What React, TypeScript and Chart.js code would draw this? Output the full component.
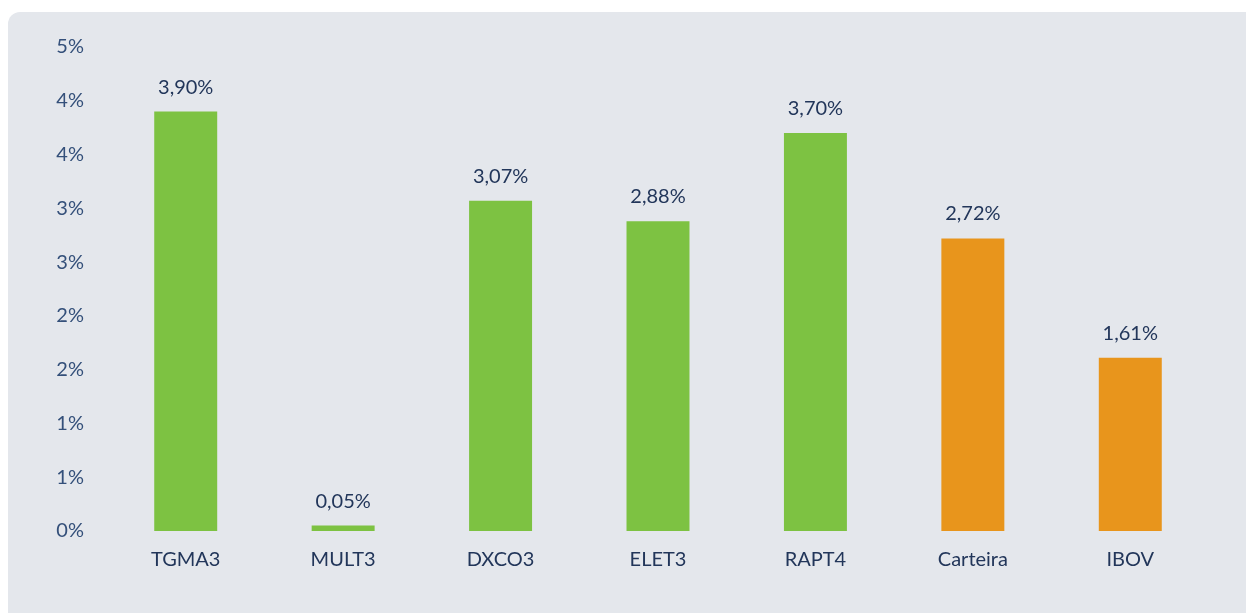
import React, { useEffect, useRef } from "react";
import { Chart, registerables } from "chart.js";

Chart.register(...registerables);

const categories = ["TGMA3", "MULT3", "DXCO3", "ELET3", "RAPT4", "Carteira", "IBOV"];
const values = [3.9, 0.05, 3.07, 2.88, 3.7, 2.72, 1.61];
const barColors = ["#7DC242", "#7DC242", "#7DC242", "#7DC242", "#7DC242", "#E8951C", "#E8951C"];
const yMax = 4.5;
const yStep = 0.5;

const FONT = "Lato, 'Open Sans', sans-serif";
const WEIGHT = "normal";
const SIZE = 20;
const TICK_COLOR = "#34507A";
const LABEL_COLOR = "#22365A";

const valueLabels = {
  id: "valueLabels",
  afterDatasetsDraw(chart: any) {
    const ctx = chart.ctx;
    const meta = chart.getDatasetMeta(0);
    ctx.save();
    ctx.font = `${WEIGHT} ${SIZE}px ${FONT}`;
    ctx.fillStyle = LABEL_COLOR;
    ctx.textAlign = "center";
    ctx.textBaseline = "alphabetic";
    meta.data.forEach((bar: any, i: number) => {
      const txt = values[i].toFixed(2).replace(".", ",") + "%";
      ctx.fillText(txt, bar.x, bar.y - 18);
    });
    ctx.restore();
  },
};

export default function App() {
  const ref = useRef<HTMLCanvasElement | null>(null);
  useEffect(() => {
    if (!ref.current) return;
    const chart = new Chart(ref.current, {
      type: "bar",
      data: {
        labels: categories,
        datasets: [
          {
            data: values,
            backgroundColor: barColors,
            borderWidth: 0,
            barPercentage: 0.4,
            categoryPercentage: 1,
          },
        ],
      },
      options: {
        animation: false,
        responsive: false,
        maintainAspectRatio: false,
        layout: { padding: { left: 0, right: 37, top: 35, bottom: 0 } },
        plugins: { legend: { display: false }, tooltip: { enabled: false } },
        scales: {
          x: {
            grid: { display: false, drawTicks: false },
            border: { display: false },
            ticks: {
              color: LABEL_COLOR,
              font: { family: FONT, size: SIZE, weight: WEIGHT },
              padding: 17,
            },
            afterFit: (s: any) => {
              s.height = 82;
            },
          },
          y: {
            min: 0,
            max: yMax,
            grid: { display: false, drawTicks: false },
            border: { display: false },
            ticks: {
              stepSize: yStep,
              color: TICK_COLOR,
              font: { family: FONT, size: SIZE, weight: WEIGHT },
              padding: 23,
              callback: (v: any) => Number(v).toFixed(0) + "%",
            },
            afterFit: (s: any) => {
              s.width = 99;
            },
          },
        },
      },
      plugins: [valueLabels],
    });
    return () => chart.destroy();
  }, []);

  return (
    <div
      style={{
        position: "fixed",
        left: 8,
        top: 12,
        width: 1300,
        height: 700,
        background: "#E4E7EC",
        borderRadius: 12,
      }}
    >
      <canvas ref={ref} width={1238} height={601} style={{ display: "block", width: 1238, height: 601 }} />
    </div>
  );
}
